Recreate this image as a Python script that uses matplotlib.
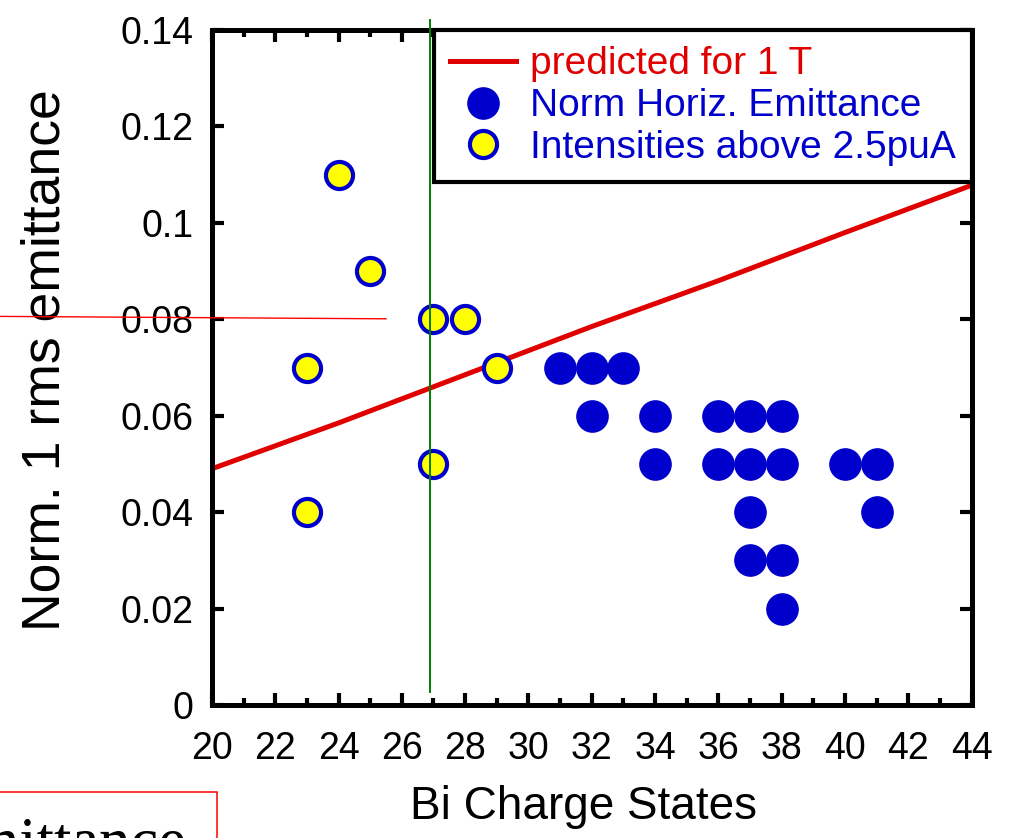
import matplotlib.pyplot as plt
from matplotlib.patches import Rectangle
from matplotlib.ticker import MultipleLocator, FixedLocator

plt.rcParams['font.family'] = ['Liberation Sans', 'DejaVu Sans']

BLUE = '#0000CC'
RED = '#E00000'

# predicted emittance for 1 T
pred_x = [20, 24, 28, 32, 36, 40, 44]
pred_y = [0.049, 0.0585, 0.0685, 0.0785, 0.0880, 0.0980, 0.1078]

# norm horiz. emittance (blue)
norm_x = [31, 32, 33, 32, 34, 34, 36, 36, 37, 37, 37, 37, 38, 38, 38, 38, 40, 41, 41]
norm_y = [0.07, 0.07, 0.07, 0.06, 0.06, 0.05, 0.06, 0.05, 0.06, 0.05, 0.04, 0.03,
          0.06, 0.05, 0.03, 0.02, 0.05, 0.05, 0.04]

# intensities above 2.5 puA (yellow)
hi_x = [23, 23, 24, 25, 27, 27, 28, 29]
hi_y = [0.07, 0.04, 0.11, 0.09, 0.08, 0.05, 0.08, 0.07]

# stray marks left over from the slide
green_x = [26.9, 26.9]
green_y = [0.0027, 0.1421]
stray_x = [13.3, 25.5]
stray_y = [0.0806, 0.0801]

ytick_vals = [0, 0.02, 0.04, 0.06, 0.08, 0.1, 0.12, 0.14]
ytick_labels = ['0', '0.02', '0.04', '0.06', '0.08', '0.1', '0.12', '0.14']

fig = plt.figure(figsize=(10.09, 8.38), dpi=100)
ax = fig.add_axes([0.210, 0.1587, 0.753, 0.8055])

ax.plot(pred_x, pred_y, color=RED, lw=3.6, zorder=2, label='predicted for 1 T')
ax.plot(norm_x, norm_y, ls='none', marker='o', ms=22.5, mfc=BLUE, mec=BLUE,
        zorder=3, label='Norm Horiz. Emittance')
ax.plot(hi_x, hi_y, ls='none', marker='o', ms=19.5, mfc='#FFFF00', mec=BLUE,
        mew=3, zorder=3, label='Intensities above 2.5puA')
ax.plot(green_x, green_y, color='#008000', lw=1.4, zorder=6, clip_on=False)
ax.plot(stray_x, stray_y, color='red', lw=1.0, zorder=4, clip_on=False)

ax.set_xlim(20, 44)
ax.set_ylim(0, 0.14)
ax.xaxis.set_major_locator(MultipleLocator(2))
ax.xaxis.set_minor_locator(MultipleLocator(1))
ax.yaxis.set_major_locator(FixedLocator(ytick_vals))
ax.set_yticklabels(ytick_labels)

ax.tick_params(which='both', direction='in', top=True, right=True, width=3,
               labelsize=27)
ax.tick_params(axis='x', which='both', pad=19)
ax.tick_params(axis='y', which='both', pad=13)
ax.tick_params(which='major', length=8.5)
ax.tick_params(which='minor', length=5)
for sp in ax.spines.values():
    sp.set_linewidth(3.6)

ax.set_xlabel('Bi Charge States', fontsize=33)
ax.xaxis.set_label_coords(0.489, -0.1185)
ax.set_ylabel('Norm. 1 rms emittance', fontsize=38.5)
ax.yaxis.set_label_coords(-0.186, 0.511)

leg = ax.legend(loc='upper right', bbox_to_anchor=(1, 1), borderaxespad=0,
                fontsize=28, labelcolor=[RED, BLUE, BLUE], fancybox=False,
                framealpha=1, edgecolor='black', borderpad=0.42,
                handlelength=1.7, handletextpad=0.35, labelspacing=0.15)
leg.get_frame().set_linewidth(3)
leg.set_zorder(5)

# cut-off text box in the lower left corner
fig.add_artist(Rectangle((-0.01, -0.02), 0.225, 0.0749, transform=fig.transFigure,
                         fill=False, edgecolor='red', lw=1.1))
fig.text(186 / 1009, -0.027, 'emittance', ha='right', va='baseline',
         family=['Liberation Serif', 'DejaVu Serif'], fontsize=45)

fig.savefig('out.png', dpi=100)
